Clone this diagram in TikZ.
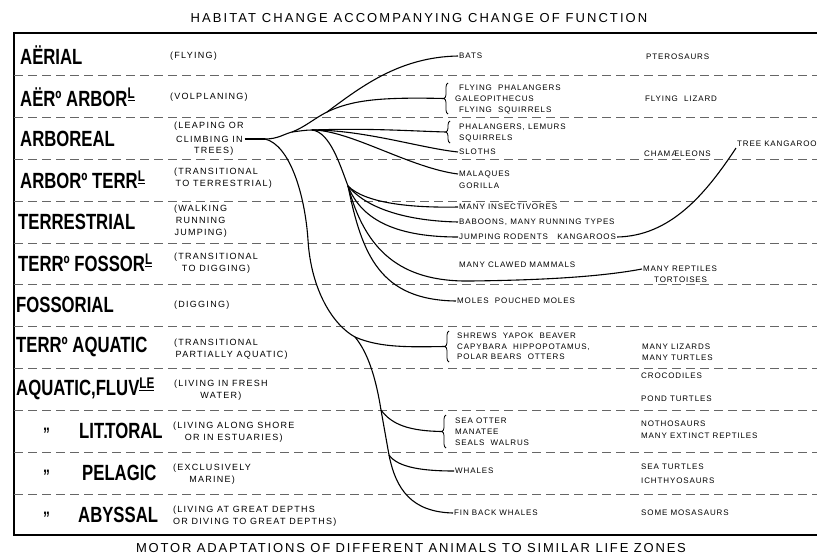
\documentclass[tikz,border=0pt]{standalone}
\usepackage{fontspec}
\setmainfont{Liberation Sans}
\usetikzlibrary{decorations.pathreplacing}
\newfontfamily\zonefont[FakeStretch=0.76]{Liberation Sans}
\newfontfamily\kleinfont[LetterSpace=11]{Liberation Sans}
\newfontfamily\erklfont[LetterSpace=14]{Liberation Sans}
\newfontfamily\titelfont[LetterSpace=16]{Liberation Sans}
\newfontfamily\untenfont[LetterSpace=14]{Liberation Sans}
\newcommand{\hochu}[1]{\textsuperscript{\underline{#1}}}

\begin{document}
\begin{tikzpicture}[
    x=1pt, y=-1pt,
    zone/.style={anchor=west, inner sep=0pt, font=\zonefont\bfseries\fontsize{22}{22}\selectfont},
    erkl/.style={inner sep=0pt, align=center, anchor=west, font=\erklfont\fontsize{9}{12}\selectfont},
    tier/.style={anchor=west, inner sep=1pt, font=\kleinfont\fontsize{8}{11}\selectfont},
    titel/.style={font=\titelfont\fontsize{13}{13}\selectfont},
    trenn/.style={gray!80!black, line width=0.8pt, dash pattern=on 9pt off 5pt},
    rahmen/.style={line width=1.1pt},
    ast/.style={line width=1.1pt},
    klammer/.style={line width=0.8pt, decorate, decoration={brace, amplitude=4pt}},
  ]
  \clip (0,0) rectangle (817,557);

  % Rahmen und Trennlinien
  \draw[rahmen] (817,33) -- (14,33) -- (14,535) -- (817,535);
  \foreach \y in {75,117,159,201,243,284,326,368,410,452,494}
    \draw[trenn] (14,\y) -- (817,\y);

  \node[titel] (titel) at (419,18) {HABITAT CHANGE ACCOMPANYING CHANGE OF FUNCTION};
  \node[titel, font=\untenfont\fontsize{13}{13}\selectfont] (unten) at (411,548) {MOTOR ADAPTATIONS OF DIFFERENT ANIMALS TO SIMILAR LIFE ZONES};

  % Lebenszonen
  \node[zone] (aerial) at (20,55) {AËRIAL};
  \node[zone] (aerarbor) at (20,97) {AËRº ARBOR\hochu{L}};
  \node[zone] (arboreal) at (20,139) {ARBOREAL};
  \node[zone] (arborterr) at (20,180) {ARBORº TERR\hochu{L}};
  \node[zone] (terrestrial) at (18,222) {TERRESTRIAL};
  \node[zone] (terrfossor) at (18,263) {TERRº FOSSOR\hochu{L}};
  \node[zone] (fossorial) at (16,305) {FOSSORIAL};
  \node[zone] (terraquatic) at (16,347) {TERRº AQUATIC};
  \node[zone] (fluv) at (16,389) {AQUATIC,FLUV\hochu{LE}};
  \node[zone] (ditto1) at (43,434) {\fontsize{18}{18}\selectfont ”};
  \node[zone] (littoral) at (79,431) {LIT\kern-1pt.\kern-2.5pt TORAL};
  \node[zone] (ditto2) at (43,476) {\fontsize{18}{18}\selectfont ”};
  \node[zone] (pelagic) at (82,473) {PELAGIC};
  \node[zone] (ditto3) at (43,518) {\fontsize{18}{18}\selectfont ”};
  \node[zone] (abyssal) at (78,515) {ABYSSAL};

  % Bewegungsart
  \node[erkl] (fliegen) at (170,56) {(FLYING)};
  \node[erkl] (gleiten) at (170,97) {(VOLPLANING)};
  \node[erkl] (springen) at (174,126) {(LEAPING OR};
  \node[erkl, inner xsep=2pt] (climb) at (174,139) {CLIMBING IN};
  \node[erkl] (baeume) at (194,151) {TREES)};
  \node[erkl, align=left] (uebergang1) at (174,178) {(TRANSITIONAL\\\,TO TERRESTRIAL)};
  \node[erkl] (laufen) at (174,221) {(WALKING\\RUNNING\\JUMPING)};
  \node[erkl] (uebergang2) at (174,263) {(TRANSITIONAL\\TO DIGGING)};
  \node[erkl] (graben) at (174,305) {(DIGGING)};
  \node[erkl, align=left] (uebergang3) at (174,349) {(TRANSITIONAL\\\,PARTIALLY AQUATIC)};
  \node[erkl] (suess) at (174,390) {(LIVING IN FRESH\\WATER)};
  \node[erkl] (ufer) at (173,432) {(LIVING ALONG SHORE\\OR IN ESTUARIES)};
  \node[erkl] (marin) at (173,474) {(EXCLUSIVELY\\MARINE)};
  \node[erkl, align=left] (tiefe) at (173,516) {(LIVING AT GREAT DEPTHS\\OR DIVING TO GREAT DEPTHS)};

  % Saeugetiere
  \node[tier] (bats) at (458,56) {BATS};
  \node[tier] (flphal) at (458,88) {FLYING\ \ PHALANGERS};
  \node[tier] (galeo) at (454,99) {GALEOPITHECUS};
  \node[tier] (flsquir) at (458,110) {FLYING\ \ SQUIRRELS};
  \node[tier] (phal) at (458,127) {PHALANGERS, LEMURS};
  \node[tier] (squir) at (458,138) {SQUIRRELS};
  \node[tier] (sloths) at (458,152) {SLOTHS};
  \node[tier] (malaques) at (458,174) {MALAQUES};
  \node[tier] (gorilla) at (458,186) {GORILLA};
  \node[tier] (insect) at (458,207) {MANY INSECTIVORES};
  \node[tier] (baboons) at (458,222) {BABOONS, MANY RUNNING TYPES};
  \node[tier] (jumping) at (458,237) {JUMPING RODENTS\ \ \ KANGAROOS};
  \node[tier] (clawed) at (458,265) {MANY CLAWED MAMMALS};
  \node[tier] (moles) at (456,301) {MOLES\ \ POUCHED MOLES};
  \node[tier] (shrews) at (456,336) {SHREWS\ \ YAPOK\ \ BEAVER};
  \node[tier] (capy) at (456,347) {CAPYBARA\ \ HIPPOPOTAMUS,};
  \node[tier] (polar) at (456,357) {POLAR BEARS\ \ OTTERS};
  \node[tier] (seaotter) at (454,421) {SEA OTTER};
  \node[tier] (manatee) at (454,432) {MANATEE};
  \node[tier] (seals) at (454,443) {SEALS\ \ WALRUS};
  \node[tier] (whales) at (454,471) {WHALES};
  \node[tier] (finback) at (453,513) {FIN BACK WHALES};

  % Reptilien
  \node[tier] (ptero) at (645,57) {PTEROSAURS};
  \node[tier] (lizard) at (644,99) {FLYING\ \ LIZARD};
  \node[tier] (chamae) at (643,154) {CHAMÆLEONS};
  \node[tier] (treekang) at (736,144) {TREE KANGAROO};
  \node[tier] (reptiles) at (642,269) {MANY REPTILES};
  \node[tier] (tortoises) at (653,280) {TORTOISES};
  \node[tier] (lizards) at (641,347) {MANY LIZARDS};
  \node[tier] (turtles) at (641,358) {MANY TURTLES};
  \node[tier] (croco) at (640,376) {CROCODILES};
  \node[tier] (pond) at (640,399) {POND TURTLES};
  \node[tier] (notho) at (640,424) {NOTHOSAURS};
  \node[tier] (extinct) at (640,436) {MANY EXTINCT REPTILES};
  \node[tier] (seaturtles) at (640,467) {SEA TURTLES};
  \node[tier] (ichthyo) at (640,481) {ICHTHYOSAURS};
  \node[tier] (mosa) at (640,513) {SOME MOSASAURS};

  % Klammern
  \draw[klammer] (448,114) -- (448,83);
  \draw[klammer] (450,143) -- (450,121);
  \draw[klammer] (449,362) -- (449,331);
  \draw[klammer] (446,448) -- (446,415);
  \coordinate (k1) at (444,98.5);
  \coordinate (k2) at (446,132);
  \coordinate (k3) at (445,346.5);
  \coordinate (k4) at (442,431.5);

  % Verzweigungen
  \coordinate (gabel) at (265,139);
  \coordinate (oben) at (292,132);
  \coordinate (flug) at (327,112);
  \coordinate (zweig) at (312,130);
  \coordinate (mitte) at (348,186);
  \coordinate (knie) at (308,240);
  \coordinate (stamm1) at (355,337);
  \coordinate (stamm2) at (381,410);
  \coordinate (stamm3) at (389,455);

  \draw[ast] (climb.east) -- (gabel);
  \draw[ast] (gabel) .. controls (278,139) and (284,134) .. (oben);
  \draw[ast] (oben) .. controls (305,127) and (315,118) .. (flug);
  \draw[ast] (flug) .. controls (362,86) and (400,57) .. (bats.west);
  \draw[ast] (flug) .. controls (352,100) and (380,97) .. (k1);
  \draw[ast] (oben) .. controls (300,131) and (306,130) .. (zweig);
  \draw[ast] (zweig) .. controls (370,128) and (410,131) .. (k2);
  \draw[ast] (zweig) .. controls (365,130) and (420,148) .. (sloths.west);
  \draw[ast] (zweig) .. controls (350,130) and (410,168) .. (malaques.west);
  \draw[ast] (zweig) .. controls (330,132) and (340,165) .. (mitte);
  \draw[ast] (mitte) .. controls (365,203) and (410,208) .. (insect.west);
  \draw[ast] (mitte) .. controls (368,210) and (410,221) .. (baboons.west);
  \draw[ast] (mitte) .. controls (362,222) and (400,237) .. (jumping.west);
  \draw[ast] (mitte) .. controls (365,250) and (400,282) .. (470,281)
                     .. controls (560,280) and (610,275) .. (reptiles.west);
  \draw[ast] (mitte) .. controls (362,255) and (380,300) .. (moles.west);
  \draw[ast] (jumping.east) .. controls (670,236) and (705,195) .. (treekang.south west);

  % Hauptstamm nach unten
  \draw[ast] (gabel) .. controls (290,145) and (305,195) .. (knie)
                     .. controls (311,290) and (333,325) .. (stamm1);
  \draw[ast] (stamm1) .. controls (380,348) and (410,347) .. (k3);
  \draw[ast] (stamm1) .. controls (370,355) and (377,385) .. (stamm2) -- (stamm3);
  \draw[ast] (stamm2) .. controls (392,425) and (410,431) .. (k4);
  \draw[ast] (stamm3) .. controls (398,468) and (425,471) .. (whales.west);
  \draw[ast] (stamm3) .. controls (396,490) and (412,512) .. (finback.west);
\end{tikzpicture}
\end{document}
